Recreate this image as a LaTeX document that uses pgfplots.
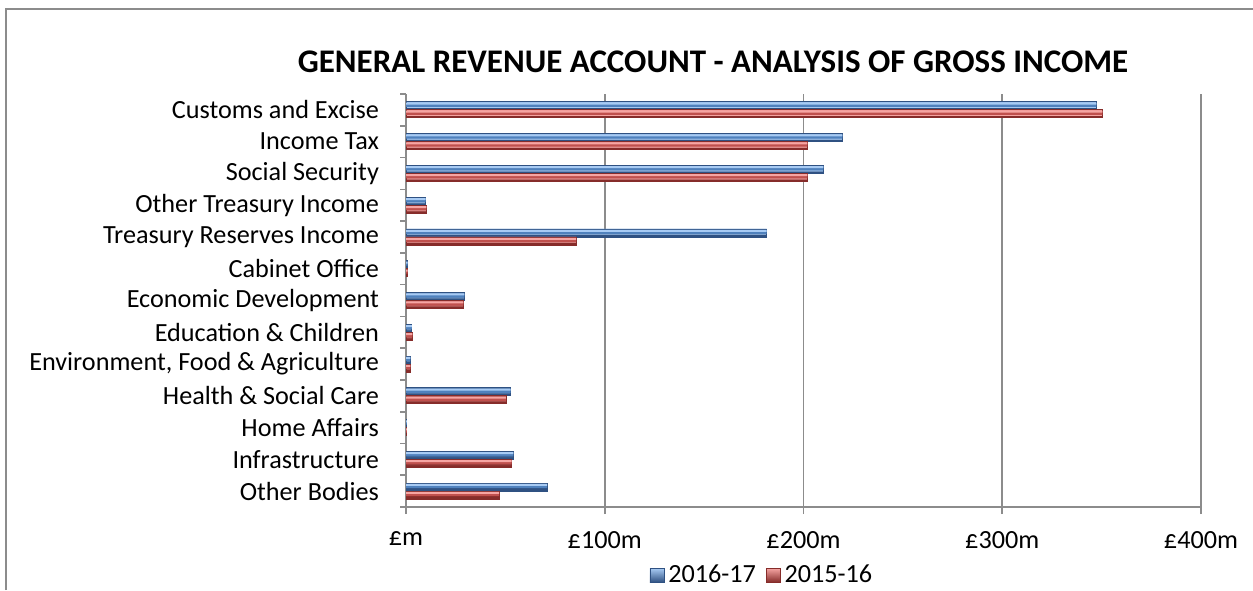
\documentclass[border=0pt]{standalone}
\usepackage{pgfplots}
\pgfplotsset{compat=1.18}
\usepackage{pgfplotstable}
\usepackage{fontspec}
\setmainfont{Carlito}

\definecolor{blueMid}{HTML}{4F81BD}
\definecolor{blueLight}{HTML}{A8CBF4}
\definecolor{blueDark}{HTML}{2F5182}
\definecolor{redMid}{HTML}{C0504D}
\definecolor{redLight}{HTML}{F6A5A3}
\definecolor{redDark}{HTML}{862C2A}
\definecolor{frameGray}{HTML}{8C8C8C}

% values in millions of pounds, categories numbered top to bottom
\pgfplotstableread{
idx  y1617  y1516
0    347.3  350.4
1    219.6  202.0
2    210.0  202.0
3    9.9    10.2
4    181.5  85.6
5    0.8    0.8
6    29.4   28.9
7    2.9    3.2
8    2.2    2.2
9    52.7   50.3
10   0.4    0.4
11   54.0   53.2
12   71.0   46.8
}\income

\begin{document}
\begin{tikzpicture}
\useasboundingbox (0,0) rectangle (626.5pt,295pt);
% chart frame (cropped at right and bottom)
\draw[frameGray, line width=0.8pt] (3pt,0pt) -- (3pt,290.5pt) -- (626.5pt,290.5pt);
\begin{axis}[
    at={(203pt,41.5pt)}, anchor=south west,
    scale only axis,
    width=397.5pt, height=206.5pt,
    xbar,
    y dir=reverse,
    ymin=-0.5, ymax=12.5,
    xmin=0, xmax=400,
    axis x line*=bottom, axis y line*=left,
    axis line style={frameGray, line width=0.8pt},
    xmajorgrids, grid style={frameGray, line width=0.8pt},
    xtick={0,100,200,300,400},
    xticklabels={£m,£100m,£200m,£300m,£400m},
    ytick={0,...,12},
    yticklabels={Customs and Excise,Income Tax,Social Security,Other Treasury Income,Treasury Reserves Income,Cabinet Office,Economic Development,Education \& Children,{Environment, Food \& Agriculture},Health \& Social Care,Home Affairs,Infrastructure,Other Bodies},
    minor ytick={-0.5,0.5,...,12.5},
    tick align=outside,
    major y tick style={draw=none},
    minor y tick style={draw=frameGray, line width=0.8pt},
    xtick style={draw=frameGray, line width=0.8pt},
    minor tick length=3pt, major tick length=3.5pt,
    ticklabel style={font=\fontsize{13.1}{15}\selectfont, text=black},
    yticklabel style={xshift=-6.5pt},
    xticklabel style={yshift=-5pt},
    legend style={at={(0.449,-0.165)}, anchor=center, draw=none,
        legend columns=2, font=\fontsize{13.1}{15}\selectfont,
        /tikz/every even column/.append style={column sep=3pt}},
    legend image code/.code={\draw[#1, line width=0.3pt] (0pt,-3.5pt) rectangle (7pt,3.5pt);},
    legend cell align=left,
]
% 2016-17 (upper bar): body, mid band, light top strip, dark bottom strip
\addplot[bar shift=2pt, bar width=4pt, draw=blueDark, line width=0.4pt,
    fill=blueMid, top color=blueLight, bottom color=blueDark]
    table[x=y1617, y=idx] {\income};
\addplot[forget plot, bar shift=2.5pt, bar width=2pt, draw=none, fill=blueMid]
    table[x=y1617, y=idx] {\income};
\addplot[forget plot, bar shift=3.1pt, bar width=1pt, draw=none, fill=blueLight]
    table[x=y1617, y=idx] {\income};
\addplot[forget plot, bar shift=0.45pt, bar width=0.9pt, draw=none, fill=blueDark]
    table[x=y1617, y=idx] {\income};
% 2015-16 (lower bar)
\addplot[bar shift=-2pt, bar width=4pt, draw=redDark, line width=0.4pt,
    fill=redMid, top color=redLight, bottom color=redDark]
    table[x=y1516, y=idx] {\income};
\addplot[forget plot, bar shift=-1.5pt, bar width=2pt, draw=none, fill=redMid]
    table[x=y1516, y=idx] {\income};
\addplot[forget plot, bar shift=-0.9pt, bar width=1pt, draw=none, fill=redLight]
    table[x=y1516, y=idx] {\income};
\addplot[forget plot, bar shift=-3.55pt, bar width=0.9pt, draw=none, fill=redDark]
    table[x=y1516, y=idx] {\income};
\legend{2016-17,2015-16}
\end{axis}
\node[font=\fontsize{16.5}{19}\selectfont\bfseries] at (356.5pt,264pt) {GENERAL REVENUE ACCOUNT - ANALYSIS OF GROSS INCOME};
\end{tikzpicture}
\end{document}
